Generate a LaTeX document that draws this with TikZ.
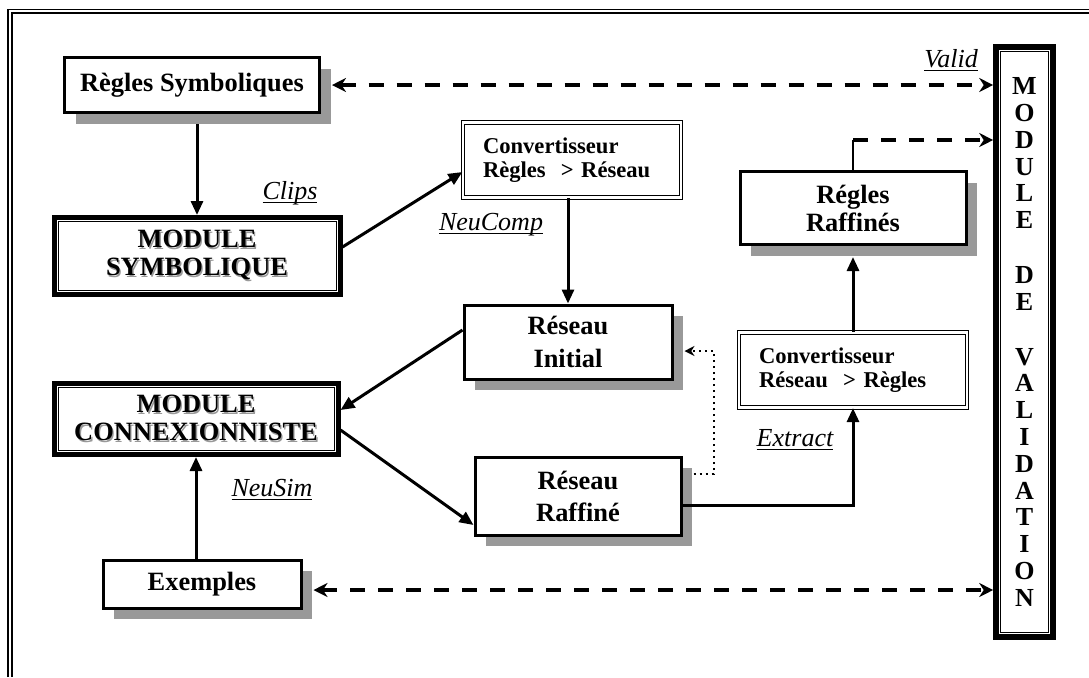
\documentclass[tikz,border=0pt]{standalone}
\usepackage{fontspec}
\setmainfont{Liberation Serif}
\usetikzlibrary{arrows.meta}
\usetikzlibrary{shadows}
\definecolor{shadowgray}{RGB}{153,153,153}
\newcommand{\shadowtxt}[1]{\leavevmode\rlap{\kern0.7pt\raisebox{-0.7pt}{\textcolor{black!40}{#1}}}#1}
\newcommand{\undlabel}[1]{\setbox0\hbox{\itshape #1}\rlap{\rule[-1.8pt]{\wd0}{0.5pt}}\box0}

\begin{document}
\begin{tikzpicture}[
        x = 0.5pt, y = -0.5pt,
        box/.style={draw, line width=1.5pt, fill=white, align=center, inner sep=0pt,
            font=\bfseries\fontsize{13.2}{14}\selectfont},
        shbox/.style={box, drop shadow={shadow xshift=5.5pt, shadow yshift=-5.5pt,
            fill=shadowgray, opacity=1}},
        modbox/.style={box, line width=2.5pt},
        convbox/.style={box, double, line width=0.6pt, double distance=1.2pt,
            align=left, inner xsep=10pt, font=\bfseries\fontsize{11.3}{12.2}\selectfont},
        arr/.style={line width=1.5pt, -{Triangle[length=7pt,width=6pt]}},
        dasharr/.style={line width=2pt, dash pattern=on 7.5pt off 6.5pt,
            -{Stealth[length=7pt,width=7pt]}},
        dasharrs/.style={dasharr, {Stealth[length=7pt,width=7pt]}-{Stealth[length=7pt,width=7pt]}},
        dotarr/.style={line width=1pt, dotted, -{Stealth[length=5pt,width=5pt]}},
        lbl/.style={font=\fontsize{13}{14}\selectfont},
		]
        \useasboundingbox (0,0) rectangle (1089,677);

        % Outer frame
        \draw[line width=0.7pt] (8,677) -- (8,9.5) -- (1089,9.5);
        \draw[line width=1pt] (11.5,677) -- (11.5,13) -- (1089,13);

        % Boxes
        \node[shbox, minimum width=127.5pt, minimum height=27.5pt] (rs) at (192,85) {Règles Symboliques};
        \node[modbox, minimum width=143pt, minimum height=38.5pt] (ms) at (197,256)
            {\shadowtxt{MODULE}\\\shadowtxt{SYMBOLIQUE}};
        \node[convbox, text width=89pt, minimum height=37.5pt] (crr) at (572,160)
            {Convertisseur\\Règles~ > Réseau};
        \node[shbox, minimum width=104pt, minimum height=37pt,
            font=\bfseries\fontsize{13.2}{16.5}\selectfont] (ri) at (568,342) {Réseau\\Initial};
        \node[modbox, minimum width=142pt, minimum height=35.5pt] (mc) at (196,419)
            {\shadowtxt{MODULE}\\\shadowtxt{CONNEXIONNISTE}};
        \node[shbox, minimum width=103pt, minimum height=39pt,
            font=\bfseries\fontsize{13.2}{16}\selectfont] (rr) at (578,496) {Réseau\\Raffiné};
        \node[convbox, text width=94pt, minimum height=37.5pt] (crs) at (853,370)
            {Convertisseur\\Réseau~ > Règles};
        \node[shbox, minimum width=113pt, minimum height=36.5pt] (rgr) at (853,208) {Régles\\Raffinés};
        \node[shbox, minimum width=99pt, minimum height=24pt] (ex) at (202,584) {Exemples};
        \node[modbox, line width=2.8pt, minimum width=28.5pt, minimum height=295pt,
            font=\bfseries\fontsize{13}{13.4}\selectfont] (mv) at (1024.5,342)
            {M\\O\\D\\U\\L\\E\\[14pt]D\\E\\[14pt]V\\A\\L\\I\\D\\A\\T\\I\\O\\N};

        % Inner lines of the module boxes
        \foreach \n in {ms,mc}
            \draw[line width=0.5pt] ([shift={(3.25pt,-3.25pt)}]\n.north west) rectangle ([shift={(-3.25pt,3.25pt)}]\n.south east);
        \draw[line width=0.5pt] ([shift={(3.7pt,-3.7pt)}]mv.north west) rectangle ([shift={(-3.7pt,3.7pt)}]mv.south east);

        % Labels
        \node[lbl] (clips) at (290,193) {\undlabel{Clips}};
        \node[lbl] (neucomp) at (491,225) {\undlabel{NeuComp}};
        \node[lbl] (neusim) at (272,490) {\undlabel{NeuSim}};
        \node[lbl] (extract) at (795,440) {\undlabel{Extract}};
        \node[lbl] (valid) at (951,60) {\undlabel{Valid}};

        % Solid arrows
        \draw[arr] ([yshift=-5pt]ms.north |- rs.south) -- (ms.north);
        \draw[arr] ([yshift=4.5pt]ms.east) -- ([yshift=-6pt]crr.west);
        \draw[arr] (crr.south -| ri.north) -- (ri.north);
        \draw[arr] ([yshift=6pt]ri.west) -- ([yshift=4.5pt]mc.east);
        \draw[arr] ([yshift=-5.5pt]mc.east) -- ([yshift=-14.5pt]rr.west);
        \draw[arr] ([yshift=-4.5pt]rr.east) -| (crs.south);
        \draw[arr] (crs.north) -- ([yshift=-5.5pt]rgr.south);
        \draw[arr] (mc.south |- ex.north) -- (mc.south);

        % Dotted feedback
        \draw[dotarr] ([shift={(5.5pt,11pt)}]rr.east) -- ++(20,0) |- ([shift={(5.5pt,-4.5pt)}]ri.east);

        % Validation links
        \draw[line width=1pt] (rgr.north) -- ++(0,-30) coordinate (rgrtop);
        \draw[dasharr] (rgrtop) -- (rgrtop -| mv.west);
        \draw[dasharrs] ([xshift=5.5pt]rs.east) -- (rs.east -| mv.west);
        \draw[dasharrs] ([shift={(5.5pt,-3pt)}]ex.east) -- ([yshift=-3pt]ex.east -| mv.west);
    \end{tikzpicture}
\end{document}
